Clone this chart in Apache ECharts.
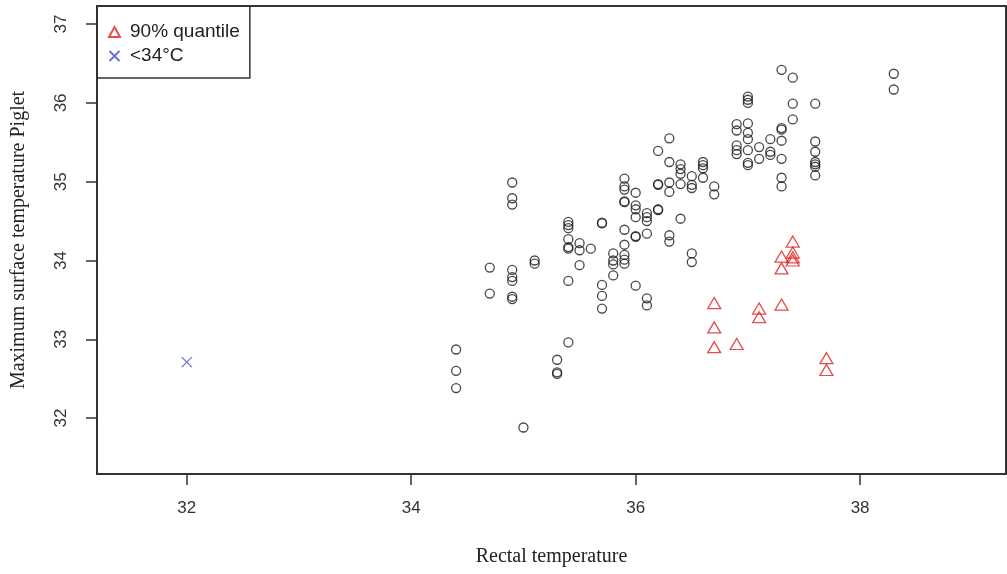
<!DOCTYPE html>
<html>
<head>
<meta charset="utf-8">
<script src="https://cdn.jsdelivr.net/npm/echarts@6/dist/echarts.min.js"></script>
<style>
  html, body { margin: 0; padding: 0; background: #fff; }
  #chart { width: 1007px; height: 574px; }
</style>
</head>
<body>
<div id="chart"></div>
<script>
// rectal temperature (x) and maximum surface temperature (y) per group
var normalRectal = [
  34.4, 34.4, 34.4,
  34.7, 34.7,
  34.9, 34.9, 34.9, 34.9, 34.9, 34.9, 34.9, 34.9,
  35.0,
  35.1, 35.1,
  35.3, 35.3, 35.3,
  35.4, 35.4, 35.4, 35.4, 35.4, 35.4, 35.4, 35.4,
  35.5, 35.5, 35.5,
  35.6,
  35.7, 35.7, 35.7, 35.7, 35.7,
  35.8, 35.8, 35.8, 35.8,
  35.9, 35.9, 35.9, 35.9, 35.9, 35.9, 35.9, 35.9, 35.9, 35.9,
  36.0, 36.0, 36.0, 36.0, 36.0, 36.0, 36.0,
  36.1, 36.1, 36.1, 36.1, 36.1, 36.1,
  36.2, 36.2, 36.2, 36.2, 36.2,
  36.3, 36.3, 36.3, 36.3, 36.3, 36.3,
  36.4, 36.4, 36.4, 36.4, 36.4,
  36.5, 36.5, 36.5, 36.5, 36.5,
  36.6, 36.6, 36.6, 36.6,
  36.7, 36.7,
  36.9, 36.9, 36.9, 36.9, 36.9,
  37.0, 37.0, 37.0, 37.0, 37.0, 37.0, 37.0, 37.0, 37.0,
  37.1, 37.1,
  37.2, 37.2, 37.2,
  37.3, 37.3, 37.3, 37.3, 37.3, 37.3, 37.3,
  37.4, 37.4, 37.4,
  37.6, 37.6, 37.6, 37.6, 37.6, 37.6, 37.6,
  38.3, 38.3
];
var normalSurface = [
  32.87, 32.60, 32.38,
  33.91, 33.58,
  34.99, 34.79, 34.71, 33.88, 33.79, 33.74, 33.54, 33.51,
  31.88,
  34.00, 33.96,
  32.74, 32.58, 32.56,
  34.49, 34.45, 34.41, 34.27, 34.17, 34.15, 33.74, 32.96,
  34.22, 34.13, 33.94,
  34.15,
  34.48, 34.47, 33.69, 33.55, 33.39,
  34.09, 34.00, 33.95, 33.81,
  35.04, 34.94, 34.90, 34.75, 34.74, 34.39, 34.20, 34.07, 34.01, 33.96,
  34.86, 34.70, 34.65, 34.55, 34.31, 34.30, 33.68,
  34.60, 34.55, 34.50, 34.34, 33.52, 33.43,
  35.39, 34.97, 34.96, 34.65, 34.64,
  35.55, 35.25, 34.99, 34.87, 34.32, 34.24,
  35.22, 35.16, 35.10, 34.97, 34.53,
  35.07, 34.96, 34.92, 34.09, 33.98,
  35.25, 35.21, 35.17, 35.05,
  34.94, 34.84,
  35.73, 35.65, 35.46, 35.40, 35.35,
  36.08, 36.04, 36.00, 35.74, 35.62, 35.54, 35.40, 35.24, 35.21,
  35.44, 35.29,
  35.54, 35.38, 35.34,
  36.42, 35.68, 35.66, 35.52, 35.29, 35.05, 34.94,
  36.32, 35.99, 35.79,
  35.99, 35.51, 35.38, 35.25, 35.22, 35.19, 35.08,
  36.37, 36.17
];

var quantileRectal = [36.7, 36.7, 36.7, 36.9, 37.1, 37.1, 37.3, 37.3, 37.3, 37.4, 37.4, 37.4, 37.4, 37.7, 37.7];
var quantileSurface = [33.46, 33.15, 32.90, 32.94, 33.39, 33.28, 34.05, 33.90, 33.44, 34.24, 34.10, 34.04, 34.00, 32.76, 32.61];

var coldRectal = [32.0];
var coldSurface = [32.71];

var xTicks = [32, 34, 36, 38];
var yTicks = [32, 33, 34, 35, 36, 37];

function zip(xs, ys) {
  return xs.map(function (x, i) { return [x, ys[i]]; });
}

var chart = echarts.init(document.getElementById('chart'));

var labelFont = {
  fontFamily: 'Liberation Sans',
  fontSize: 17,
  color: '#333'
};
var titleFont = {
  fontFamily: 'Liberation Serif',
  fontSize: 20,
  color: '#222'
};

var option = {
  animation: false,
  grid: {
    left: 97,
    top: 6,
    right: 1,
    bottom: 100,
    show: true,
    borderColor: '#333',
    borderWidth: 2,
    containLabel: false
  },
  legend: {
    orient: 'vertical',
    left: 97,
    top: 6,
    padding: [16, 10, 12, 11],
    itemWidth: 11,
    itemHeight: 10,
    itemGap: 4,
    borderColor: '#333',
    borderWidth: 1.5,
    textStyle: {
      fontFamily: 'Liberation Sans',
      fontSize: 19,
      color: '#222',
      lineHeight: 20,
      padding: [0, 0, 0, 5]
    },
    data: ['90% quantile', '<34°C']
  },
  xAxis: {
    type: 'value',
    min: 31.2,
    max: 39.3,
    name: 'Rectal temperature',
    nameLocation: 'middle',
    nameGap: 73,
    nameTextStyle: titleFont,
    axisLine: { show: false },
    splitLine: { show: false },
    axisTick: {
      show: true,
      length: 11,
      customValues: xTicks,
      lineStyle: { color: '#333', width: 1.5 }
    },
    axisLabel: Object.assign({ margin: 26, customValues: xTicks }, labelFont)
  },
  yAxis: {
    type: 'value',
    min: 31.29,
    max: 37.23,
    name: 'Maximum surface temperature Piglet',
    nameLocation: 'middle',
    nameGap: 68,
    nameTextStyle: titleFont,
    axisLine: { show: false },
    splitLine: { show: false },
    axisTick: {
      show: true,
      length: 11,
      customValues: yTicks,
      lineStyle: { color: '#333', width: 1.5 }
    },
    axisLabel: Object.assign({ margin: 27, rotate: 90, customValues: yTicks }, labelFont)
  },
  series: [
    {
      name: 'all',
      type: 'scatter',
      symbol: 'circle',
      symbolSize: 9,
      itemStyle: { color: 'rgba(0,0,0,0)', borderColor: '#1a1a1a', borderWidth: 1.3 },
      data: zip(normalRectal, normalSurface)
    },
    {
      name: '90% quantile',
      type: 'scatter',
      symbol: 'triangle',
      symbolSize: [13, 11],
      itemStyle: { color: 'rgba(0,0,0,0)', borderColor: '#e02020', borderWidth: 1.3 },
      data: zip(quantileRectal, quantileSurface)
    },
    {
      name: '<34°C',
      type: 'scatter',
      symbol: 'path://M0,0L10,10M10,0L0,10',
      symbolSize: 10,
      itemStyle: { color: 'rgba(0,0,0,0)', borderColor: '#4a4ad0', borderWidth: 1.3 },
      data: zip(coldRectal, coldSurface)
    }
  ]
};

chart.setOption(option);
</script>
</body>
</html>
